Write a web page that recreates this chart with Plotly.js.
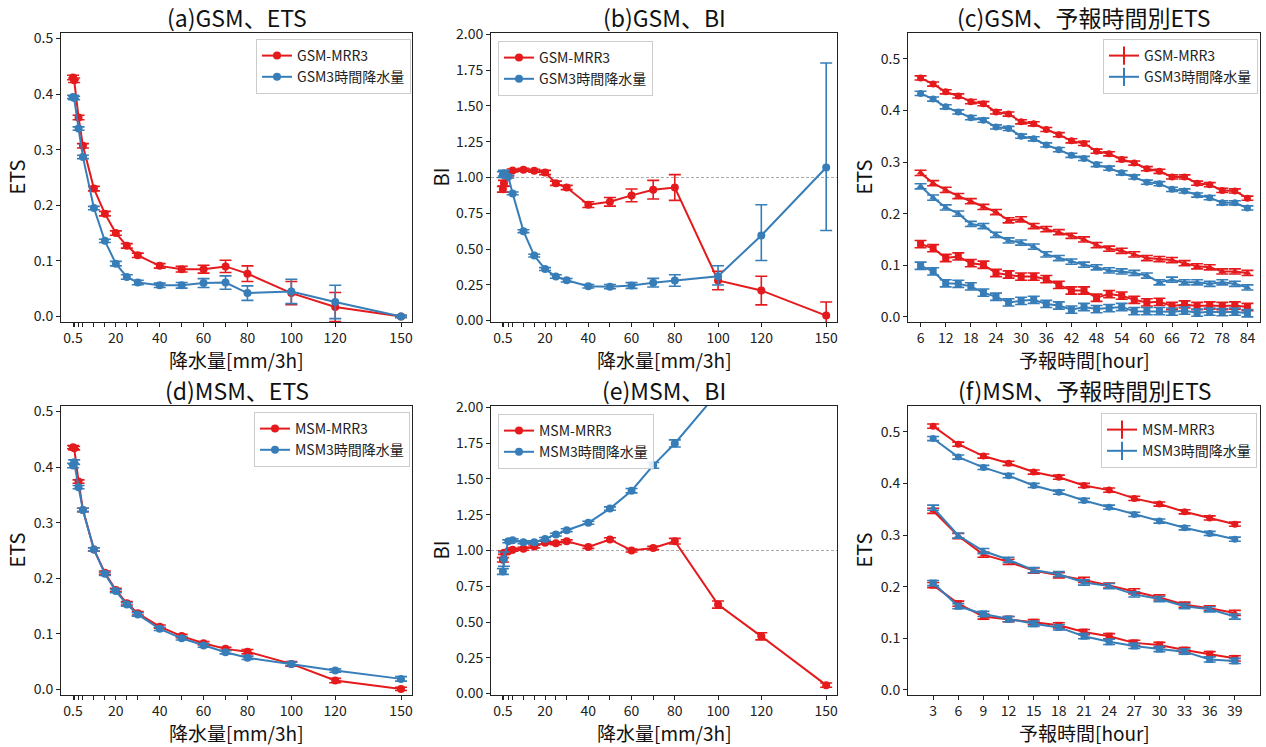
<!DOCTYPE html>
<html><head><meta charset="utf-8">
<script src="https://cdn.plot.ly/plotly-3.0.1.min.js"></script>
<style>html,body{margin:0;padding:0;background:#fff}</style>
</head><body><div id="chart" style="width:1266px;height:747px"></div>
<script>
// ---- data ----
const thresholds = [0.5, 1, 3, 5, 10, 15, 20, 25, 30, 40, 50, 60, 70, 80, 100, 120, 150];
const thresholdTickText = ['0.5','','','','','','20','','','40','','60','','80','100','120','150'];

const gsmEtsMrr   = [0.430, 0.425, 0.358, 0.307, 0.230, 0.185, 0.150, 0.127, 0.110, 0.091, 0.085, 0.085, 0.090, 0.077, 0.042, 0.017, 0.000];
const gsmEtsMrrErr= [0.004, 0.004, 0.004, 0.004, 0.004, 0.004, 0.004, 0.004, 0.004, 0.004, 0.005, 0.007, 0.011, 0.014, 0.021, 0.026, 0.002];
const gsmEts3h    = [0.395, 0.393, 0.338, 0.287, 0.195, 0.136, 0.095, 0.071, 0.061, 0.056, 0.056, 0.060, 0.061, 0.042, 0.045, 0.026, 0.000];
const gsmEts3hErr = [0.003, 0.003, 0.003, 0.003, 0.003, 0.003, 0.004, 0.004, 0.004, 0.004, 0.005, 0.008, 0.012, 0.013, 0.022, 0.030, 0.002];

const gsmBiMrr    = [0.918, 0.960, 1.020, 1.049, 1.054, 1.047, 1.035, 0.960, 0.930, 0.810, 0.830, 0.875, 0.915, 0.930, 0.280, 0.210, 0.035];
const gsmBiMrrErr = [0.020, 0.020, 0.010, 0.010, 0.010, 0.010, 0.015, 0.015, 0.015, 0.020, 0.030, 0.045, 0.065, 0.090, 0.065, 0.100, 0.095];
const gsmBi3h     = [1.020, 1.030, 1.006, 0.889, 0.625, 0.454, 0.360, 0.308, 0.282, 0.240, 0.237, 0.245, 0.265, 0.280, 0.310, 0.595, 1.070];
const gsmBi3hErrPlus  = [0.020, 0.020, 0.010, 0.010, 0.010, 0.010, 0.010, 0.012, 0.012, 0.012, 0.015, 0.020, 0.030, 0.040, 0.073, 0.215, 0.730];
const gsmBi3hErrMinus = [0.020, 0.020, 0.010, 0.010, 0.010, 0.010, 0.010, 0.012, 0.012, 0.012, 0.015, 0.020, 0.030, 0.040, 0.061, 0.175, 0.440];

const msmEtsMrr   = [0.436, 0.434, 0.374, 0.323, 0.252, 0.210, 0.179, 0.155, 0.137, 0.113, 0.096, 0.083, 0.073, 0.068, 0.046, 0.016, 0.001];
const msmEtsMrrErr= [0.003, 0.003, 0.003, 0.003, 0.003, 0.003, 0.003, 0.003, 0.003, 0.003, 0.003, 0.003, 0.003, 0.004, 0.004, 0.004, 0.003];
const msmEts3h    = [0.403, 0.409, 0.364, 0.323, 0.252, 0.208, 0.177, 0.153, 0.135, 0.109, 0.092, 0.079, 0.067, 0.057, 0.046, 0.034, 0.019];
const msmEts3hErr = [0.004, 0.004, 0.003, 0.003, 0.003, 0.003, 0.003, 0.003, 0.003, 0.003, 0.003, 0.003, 0.003, 0.003, 0.003, 0.003, 0.004];

const msmBiMrr    = [0.935, 0.985, 0.995, 1.005, 1.012, 1.028, 1.055, 1.050, 1.064, 1.025, 1.077, 1.000, 1.018, 1.065, 0.622, 0.400, 0.059];
const msmBiMrrErr = [0.015, 0.012, 0.010, 0.010, 0.010, 0.010, 0.010, 0.010, 0.010, 0.010, 0.012, 0.010, 0.012, 0.020, 0.025, 0.025, 0.015];
const msmBi3h     = [0.853, 0.940, 1.064, 1.071, 1.057, 1.057, 1.081, 1.111, 1.142, 1.194, 1.293, 1.418, 1.595, 1.748, 2.110, 2.500, 3.000];
const msmBi3hErr  = [0.020, 0.050, 0.010, 0.010, 0.010, 0.010, 0.010, 0.010, 0.010, 0.010, 0.012, 0.015, 0.020, 0.025, 0.030, 0.040, 0.060];

const gsmHours = [6, 9, 12, 15, 18, 21, 24, 27, 30, 33, 36, 39, 42, 45, 48, 51, 54, 57, 60, 63, 66, 69, 72, 75, 78, 81, 84];
const gsmHourTicks = [6, 12, 18, 24, 30, 36, 42, 48, 54, 60, 66, 72, 78, 84];
const gsmHourMrrCircle = [0.463,0.451,0.436,0.428,0.417,0.413,0.397,0.393,0.378,0.374,0.363,0.353,0.341,0.336,0.321,0.316,0.305,0.298,0.287,0.282,0.271,0.271,0.259,0.256,0.245,0.244,0.230];
const gsm3hHourCircle  = [0.433,0.422,0.407,0.397,0.386,0.381,0.368,0.365,0.350,0.345,0.333,0.324,0.313,0.307,0.295,0.288,0.279,0.271,0.261,0.258,0.247,0.244,0.236,0.231,0.221,0.221,0.211];
const gsmHourMrrTri    = [0.279,0.259,0.246,0.234,0.224,0.213,0.203,0.187,0.189,0.176,0.170,0.164,0.157,0.150,0.139,0.132,0.128,0.121,0.114,0.112,0.110,0.104,0.098,0.096,0.088,0.088,0.085];
const gsm3hHourTri     = [0.253,0.231,0.212,0.200,0.180,0.176,0.159,0.148,0.144,0.136,0.121,0.114,0.107,0.101,0.096,0.090,0.088,0.085,0.080,0.067,0.072,0.067,0.067,0.064,0.067,0.064,0.057];
const gsmHourMrrSq     = [0.141,0.133,0.114,0.117,0.104,0.101,0.085,0.082,0.078,0.078,0.073,0.062,0.051,0.051,0.037,0.044,0.041,0.033,0.028,0.029,0.021,0.024,0.021,0.022,0.021,0.022,0.019];
const gsm3hHourSq      = [0.099,0.088,0.065,0.064,0.059,0.047,0.039,0.028,0.031,0.033,0.025,0.022,0.014,0.019,0.015,0.017,0.019,0.011,0.011,0.011,0.010,0.012,0.008,0.010,0.009,0.010,0.007];

const msmHours = [3, 6, 9, 12, 15, 18, 21, 24, 27, 30, 33, 36, 39];
const msmHourMrrCircle = [0.511,0.476,0.453,0.439,0.422,0.412,0.396,0.387,0.371,0.360,0.345,0.333,0.321];
const msm3hHourCircle  = [0.487,0.451,0.431,0.415,0.396,0.383,0.367,0.354,0.340,0.327,0.314,0.303,0.292];
const msmHourMrrTri    = [0.347,0.298,0.262,0.248,0.231,0.222,0.213,0.202,0.191,0.179,0.165,0.158,0.149];
const msm3hHourTri     = [0.353,0.299,0.269,0.252,0.232,0.224,0.208,0.201,0.185,0.176,0.162,0.156,0.142];
const msmHourMrrSq     = [0.203,0.167,0.142,0.137,0.131,0.125,0.112,0.104,0.091,0.087,0.077,0.069,0.061];
const msm3hHourSq      = [0.207,0.162,0.147,0.137,0.128,0.121,0.104,0.093,0.085,0.079,0.074,0.059,0.056];

const titles = ['(a)GSM、ETS','(b)GSM、BI','(c)GSM、予報時間別ETS','(d)MSM、ETS','(e)MSM、BI','(f)MSM、予報時間別ETS'];
const xTitleRain = '降水量[mm/3h]';
const xTitleHour = '予報時間[hour]';

// ---- style ----
const RED = '#e41a1c', BLUE = '#377eb8';
const FONT = 'Noto Sans CJK JP, Noto Sans, sans-serif';
const W = 1266, H = 747;
const px = v => v / W, py = v => 1 - v / H;

function errTrace(x, y, err, color, symbol, name, xa, ya, legendId, showLeg, errMinus) {
  const e = {type: 'data', array: err, visible: true, color: color, thickness: 1.6, width: 6};
  if (errMinus) { e.symmetric = false; e.arrayminus = errMinus; }
  return {
    x: x, y: y, xaxis: xa, yaxis: ya, type: 'scatter', mode: 'lines+markers', name: name,
    line: {color: color, width: 2}, marker: {color: color, size: 8, symbol: symbol},
    error_y: e, showlegend: showLeg, legend: legendId, cliponaxis: true
  };
}
function legendOnly(name, color, legendId, xa, ya) {
  return {x: [null], y: [null], xaxis: xa, yaxis: ya, type: 'scatter', mode: 'lines+markers', name: name,
    line: {color: color, width: 2}, marker: {symbol: 'line-ns-open', size: 13, line: {color: color, width: 2}},
    showlegend: true, legend: legendId};
}

const traces = [
  errTrace(thresholds, gsmEtsMrr, gsmEtsMrrErr, RED, 'circle', 'GSM-MRR3', 'x', 'y', 'legend', true),
  errTrace(thresholds, gsmEts3h, gsmEts3hErr, BLUE, 'circle', 'GSM3時間降水量', 'x', 'y', 'legend', true),
  errTrace(thresholds, gsmBiMrr, gsmBiMrrErr, RED, 'circle', 'GSM-MRR3', 'x2', 'y2', 'legend2', true),
  errTrace(thresholds, gsmBi3h, gsmBi3hErrPlus, BLUE, 'circle', 'GSM3時間降水量', 'x2', 'y2', 'legend2', true, gsmBi3hErrMinus),
  errTrace(thresholds, msmEtsMrr, msmEtsMrrErr, RED, 'circle', 'MSM-MRR3', 'x4', 'y4', 'legend4', true),
  errTrace(thresholds, msmEts3h, msmEts3hErr, BLUE, 'circle', 'MSM3時間降水量', 'x4', 'y4', 'legend4', true),
  errTrace(thresholds, msmBiMrr, msmBiMrrErr, RED, 'circle', 'MSM-MRR3', 'x5', 'y5', 'legend5', true),
  errTrace(thresholds, msmBi3h, msmBi3hErr, BLUE, 'circle', 'MSM3時間降水量', 'x5', 'y5', 'legend5', true),
];
const hourSets = [
  [gsmHours, [[gsmHourMrrCircle, gsm3hHourCircle, 'circle', 0.004], [gsmHourMrrTri, gsm3hHourTri, 'triangle-up', 0.005], [gsmHourMrrSq, gsm3hHourSq, 'square', 0.007]], 'x3', 'y3', 'legend3', 'GSM'],
  [msmHours, [[msmHourMrrCircle, msm3hHourCircle, 'circle', 0.004], [msmHourMrrTri, msm3hHourTri, 'triangle-up', 0.005], [msmHourMrrSq, msm3hHourSq, 'square', 0.005]], 'x6', 'y6', 'legend6', 'MSM'],
];
hourSets.forEach(([hrs, groups, xa, ya, lg, model]) => {
  groups.forEach(([mrr, h3, sym, e]) => {
    const a = errTrace(hrs, mrr, hrs.map(() => e), RED, sym, model + '-MRR3', xa, ya, lg, false);
    const b = errTrace(hrs, h3, hrs.map(() => e), BLUE, sym, model + '3時間降水量', xa, ya, lg, false);
    a.marker.size = 7; b.marker.size = 7;
    traces.push(a, b);
  });
  traces.push(legendOnly(model + '-MRR3', RED, lg, xa, ya));
  traces.push(legendOnly(model + '3時間降水量', BLUE, lg, xa, ya));
});

// ---- layout ----
const colX = [[61, 412], [491, 837], [908, 1260]];
const rowY = [[33, 322], [406, 695]];
function ax(extra) {
  return Object.assign({
    showline: true, mirror: true, linecolor: '#222', linewidth: 1,
    ticks: 'outside', ticklen: 4, tickwidth: 1, tickcolor: '#222',
    showgrid: false, zeroline: false, fixedrange: true,
    tickfont: {family: FONT, size: 14, color: '#222'}
  }, extra);
}
const layout = {
  width: W, height: H, margin: {l: 0, r: 0, t: 0, b: 0},
  paper_bgcolor: '#fff', plot_bgcolor: '#fff',
  font: {family: FONT, color: '#111'},
  annotations: [], shapes: []
};
const rainX = {range: [-5, 155], tickmode: 'array', tickvals: thresholds, ticktext: thresholdTickText};
const panels = [
  {id: '', col: 0, row: 0, x: rainX, y: {range: [-0.01, 0.51], dtick: 0.1, tickformat: '.1f'}, yt: 'ETS', xt: xTitleRain, leg: [256, 39]},
  {id: '2', col: 1, row: 0, x: rainX, y: {range: [-0.01, 2.01], dtick: 0.25, tickformat: '.2f'}, yt: 'BI', xt: xTitleRain, leg: [498, 41]},
  {id: '3', col: 2, row: 0, x: {range: [3, 87], tickmode: 'array', tickvals: gsmHourTicks}, y: {range: [-0.01, 0.55], dtick: 0.1, tickformat: '.1f'}, yt: 'ETS', xt: xTitleHour, leg: [1103, 39]},
  {id: '4', col: 0, row: 1, x: rainX, y: {range: [-0.01, 0.51], dtick: 0.1, tickformat: '.1f'}, yt: 'ETS', xt: xTitleRain, leg: [254, 412]},
  {id: '5', col: 1, row: 1, x: rainX, y: {range: [-0.01, 2.01], dtick: 0.25, tickformat: '.2f'}, yt: 'BI', xt: xTitleRain, leg: [498, 414]},
  {id: '6', col: 2, row: 1, x: {range: [0, 42], tickmode: 'array', tickvals: msmHours}, y: {range: [-0.01, 0.55], dtick: 0.1, tickformat: '.1f'}, yt: 'ETS', xt: xTitleHour, leg: [1101, 413]},
];
panels.forEach((p, i) => {
  const xk = 'xaxis' + p.id, yk = 'yaxis' + p.id;
  const xs = colX[p.col], ys = rowY[p.row];
  layout[xk] = ax(Object.assign({domain: [px(xs[0]), px(xs[1])], anchor: 'y' + p.id, ticklen: 3.5}, p.x));
  layout[yk] = ax(Object.assign({domain: [py(ys[1]), py(ys[0])], anchor: 'x' + p.id}, p.y));
  const cx = (xs[0] + xs[1]) / 2;
  layout.annotations.push({xref: 'paper', yref: 'paper', x: px(cx), y: py(ys[0] - 16), text: titles[i], showarrow: false,
    xanchor: 'center', yanchor: 'middle', font: {family: FONT, size: 23, color: '#111'}});
  layout.annotations.push({xref: 'paper', yref: 'paper', x: px(cx), y: py(ys[1] + 37), text: p.xt, showarrow: false,
    xanchor: 'center', yanchor: 'middle', font: {family: FONT, size: 19, color: '#111'}});
  const ytx = [16, 440, 863][p.col];
  layout.annotations.push({xref: 'paper', yref: 'paper', x: px(ytx), y: py((ys[0] + ys[1]) / 2), text: p.yt, showarrow: false,
    textangle: -90, xanchor: 'center', yanchor: 'middle', font: {family: FONT, size: 20, color: '#111'}});
  const lgk = i === 0 ? 'legend' : 'legend' + (i + 1);
  layout[lgk] = {x: px(p.leg[0]), y: py(p.leg[1]), xanchor: 'left', yanchor: 'top', xref: 'paper', yref: 'paper',
    bgcolor: 'rgba(255,255,255,0.85)', bordercolor: '#cccccc', borderwidth: 1,
    font: {family: FONT, size: 14, color: '#222'}, itemwidth: 30, tracegroupgap: 0};
});
['2', '5'].forEach(id => {
  layout.shapes.push({type: 'line', xref: 'x' + id + ' domain', yref: 'y' + id, x0: 0, x1: 1, y0: 1, y1: 1,
    line: {color: '#aaaaaa', width: 1.2, dash: '3px,2px'}, layer: 'below'});
});

Plotly.newPlot('chart', traces, layout, {staticPlot: true, displayModeBar: false});
</script>
</body></html>
